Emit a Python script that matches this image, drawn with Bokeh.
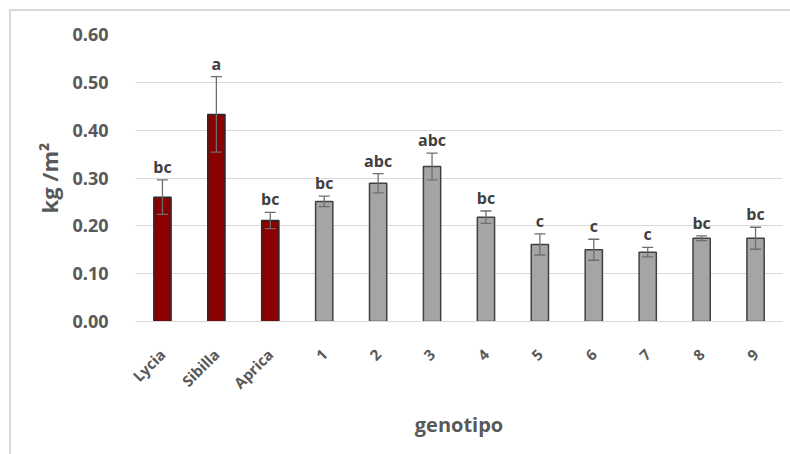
import numpy as np
from bokeh.plotting import figure
from bokeh.models import (ColumnDataSource, FactorRange, Whisker, TeeHead, Range1d,
                          FixedTicker, NumeralTickFormatter)
from bokeh.core.properties import value
from bokeh.embed import file_html
from bokeh.resources import INLINE

genotypes = ["Lycia", "Sibilla", "Aprica", "1", "2", "3", "4", "5", "6", "7", "8", "9"]
yield_kg_m2 = [0.26, 0.433, 0.211, 0.251, 0.289, 0.324, 0.218, 0.161, 0.150, 0.145, 0.174, 0.174]
std_err = [0.036, 0.079, 0.017, 0.011, 0.020, 0.028, 0.013, 0.022, 0.022, 0.010, 0.005, 0.023]
letters = ["bc", "a", "bc", "bc", "abc", "abc", "bc", "c", "c", "c", "bc", "bc"]
is_control = [True, True, True, False, False, False, False, False, False, False, False, False]
y_ticks = [0.0, 0.1, 0.2, 0.3, 0.4, 0.5, 0.6]

vals = np.array(yield_kg_m2)
errs = np.array(std_err)
colors = ["#8B0000" if c else "#A5A5A5" for c in is_control]
outlines = ["#2b2b2b" if c else "#404040" for c in is_control]

src = ColumnDataSource(dict(
    x=genotypes, top=vals, upper=vals + errs, lower=vals - errs,
    color=colors, outline=outlines, lab=letters,
))

FONT = "Open Sans"
p = figure(x_range=FactorRange(factors=genotypes), y_range=Range1d(0, 0.6),
           width=790, height=454, output_backend="svg", toolbar_location=None,
           min_border_left=135, min_border_right=8, min_border_top=34, min_border_bottom=133)
p.outline_line_color = None
p.border_fill_color = None
p.background_fill_color = "white"
p.styles = {"box-shadow": "inset 9px 9px 0 0 #ffffff, inset 11px 11px 0 0 #d9d9d9",
            "background-color": "white"}

p.vbar(x="x", top="top", width=0.32, source=src, fill_color="color",
       line_color="outline", line_width=1.5)

w = Whisker(base="x", upper="upper", lower="lower", source=src,
            line_color="#6e6e6e", line_width=1.3, level="overlay",
            upper_head=TeeHead(size=11, line_color="#6e6e6e", line_width=1.3),
            lower_head=TeeHead(size=11, line_color="#6e6e6e", line_width=1.3))
p.add_layout(w)

p.text(x="x", y="upper", text="lab", source=src, text_align="center",
       text_baseline="bottom", y_offset=-2, text_font=value(FONT),
       text_font_style="bold", text_font_size="16px", text_color="#404040")

p.xgrid.grid_line_color = None
p.ygrid.grid_line_color = "#d9d9d9"
p.ygrid.grid_line_width = 1.2

p.yaxis.ticker = FixedTicker(ticks=y_ticks)
p.yaxis.formatter = NumeralTickFormatter(format="0.00")
p.yaxis.axis_line_color = None
p.yaxis.major_tick_line_color = None
p.yaxis.minor_tick_line_color = None
p.yaxis.major_label_text_font = FONT
p.yaxis.major_label_text_font_style = "bold"
p.yaxis.major_label_text_font_size = "18px"
p.yaxis.major_label_text_color = "#595959"
p.yaxis.major_label_standoff = 21
p.yaxis.axis_label = "kg /m²"
p.yaxis.axis_label_text_font = FONT
p.yaxis.axis_label_text_font_style = "bold"
p.yaxis.axis_label_text_font_size = "22px"
p.yaxis.axis_label_text_color = "#595959"
p.yaxis.axis_label_standoff = 5

p.xaxis.axis_line_color = "#d9d9d9"
p.xaxis.major_tick_line_color = None
p.xaxis.minor_tick_line_color = None
p.xaxis.major_label_orientation = np.pi / 4
p.xaxis.major_label_text_font = FONT
p.xaxis.major_label_text_font_style = "bold"
p.xaxis.major_label_text_font_size = "15px"
p.xaxis.major_label_text_color = "#595959"
p.xaxis.major_label_standoff = 24
p.xaxis.axis_label = "genotipo"
p.xaxis.axis_label_text_font = FONT
p.xaxis.axis_label_text_font_style = "bold"
p.xaxis.axis_label_text_font_size = "20px"
p.xaxis.axis_label_text_color = "#595959"
p.xaxis.axis_label_standoff = 8

open("out.html", "w").write(file_html(p, INLINE))
